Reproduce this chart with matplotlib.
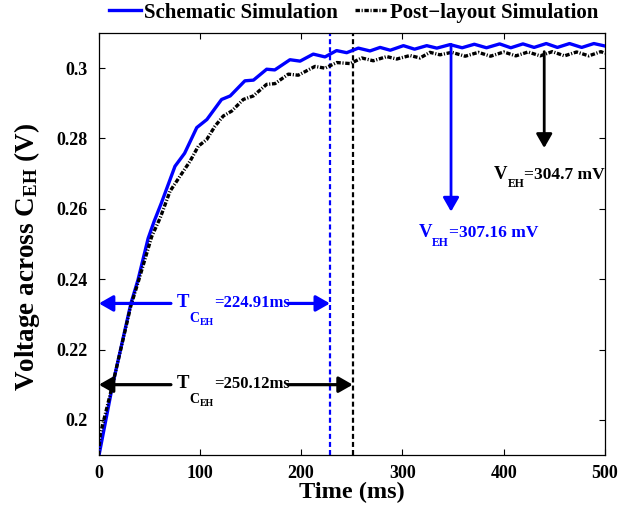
import matplotlib
matplotlib.use("Agg")
import matplotlib.pyplot as plt
from matplotlib.ticker import FixedLocator, FuncFormatter
from matplotlib.transforms import offset_copy

plt.rcParams['font.family'] = ['Liberation Serif', 'DejaVu Serif']
plt.rcParams['font.weight'] = 'bold'
plt.rcParams['mathtext.fontset'] = 'custom'
plt.rcParams['mathtext.rm'] = 'Liberation Serif:bold'
plt.rcParams['mathtext.it'] = 'Liberation Serif:bold'
plt.rcParams['mathtext.bf'] = 'Liberation Serif:bold'
plt.rcParams['mathtext.default'] = 'rm'
plt.rcParams['lines.scale_dashes'] = False

# ---- data (time in ms, voltage in V) ----
t_schem = [0, 14, 32, 39, 49, 55, 62, 75.5, 85, 97, 107, 121.5, 130, 144.5, 153, 166, 174, 189, 199, 212,
           223.6, 235, 245, 256.5, 268, 278, 288, 301, 312, 324, 334, 347, 359, 371, 383, 396, 407, 419, 430, 442,
           453, 465, 477, 489, 500]
v_schem = [0.1892, 0.2100, 0.2331, 0.2398, 0.2516, 0.2565, 0.2616, 0.2721, 0.2758, 0.2831,
           0.2854, 0.2911, 0.2921, 0.2964, 0.2966, 0.2997, 0.2995, 0.3024, 0.3020, 0.3040,
           0.3032, 0.3050, 0.3044, 0.3057, 0.3049, 0.3059, 0.3051, 0.3064, 0.3054, 0.3064,
           0.3057, 0.3067, 0.3058, 0.3068, 0.3058, 0.3069, 0.3058, 0.3069, 0.3059, 0.3070,
           0.3059, 0.3070, 0.3059, 0.3070, 0.3063]

t_post = [0, 1.8, 5.1, 8.4, 13.3, 32, 39, 52.5, 61, 70.6, 80.5, 90.3, 98.5, 106.8, 115, 123.2, 131.5, 142.9,
          152.8, 166, 174.2, 187.4, 197.2, 213.7, 223.6, 235.1, 248.6, 259.8, 271.3, 284.5, 294.4, 307.5,
          317.4, 327.2, 337.1, 348.7, 362, 375, 387, 400, 412, 424, 436, 448, 460, 472, 484, 496, 500]
v_post = [0.1900, 0.1960, 0.1998, 0.2036, 0.2093, 0.2325, 0.2390, 0.2521, 0.2575, 0.2650,
          0.2693, 0.2735, 0.2778, 0.2797, 0.2835, 0.2864, 0.2878, 0.2911, 0.2921, 0.2954,
          0.2956, 0.2983, 0.2980, 0.3005, 0.3000, 0.3016, 0.3013, 0.3029, 0.3021, 0.3033,
          0.3026, 0.3036, 0.3029, 0.3045, 0.3038, 0.3045, 0.3034, 0.3045, 0.3034, 0.3046,
          0.3035, 0.3046, 0.3035, 0.3047, 0.3035, 0.3046, 0.3035, 0.3047, 0.3042]

series_labels = ['Schematic Simulation', 'Post\u2212layout Simulation']
x_ticks = [0, 100, 200, 300, 400, 500]
y_ticks = [0.2, 0.22, 0.24, 0.26, 0.28, 0.3]

# settling times (vertical markers) and arrow levels
t_settle_schem = 228.5
t_settle_post = 251
arrow_level_schem = 0.2331
arrow_level_post = 0.2100
value_settle_schem = '=224.91ms'
value_settle_post = '=250.12ms'

# final value markers: (time, arrow start, arrow tip)
veh_schem = (348, 0.3068, 0.2592)
veh_post = (440, 0.3047, 0.2773)
value_veh_schem = '=307.16 mV'
value_veh_post = '=304.7 mV'

BLUE = '#0000ff'
BLACK = '#000000'

fig = plt.figure(figsize=(6.37, 5.08), dpi=100)
ax = fig.add_axes([98.5 / 637, 1 - 455 / 508, (605 - 98.5) / 637, (455 - 33) / 508])

l1, = ax.plot(t_schem, v_schem, color=BLUE, lw=2.4, zorder=3)
l2, = ax.plot(t_post, v_post, color=BLACK, lw=2.4, linestyle=(0, (3.2, 1.2, 0.8, 1.2)), zorder=4)

ax.axvline(t_settle_schem, color=BLUE, lw=1.6, linestyle=(0, (3.6, 2.2)), zorder=2)
ax.axvline(t_settle_post, color=BLACK, lw=1.6, linestyle=(0, (3.6, 2.2)), zorder=2)

ax.set_xlim(0, 500)
ax.set_ylim(0.19, 0.31)

HEAD = '-|>,head_length=0.42,head_width=0.24'


def arrow(x0, y0, x1, y1, col, lw):
    ax.annotate('', xy=(x1, y1), xytext=(x0, y0),
                arrowprops=dict(arrowstyle=HEAD, lw=lw, color=col, shrinkA=0, shrinkB=0,
                                mutation_scale=20), zorder=5)


def rich(x, y, pieces, col):
    """pieces: list of (string, fontsize, dy in px)"""
    renderer = fig.canvas.get_renderer()
    dx = 0.0
    for s, fs, dy in pieces:
        tr = offset_copy(ax.transData, fig=fig, x=dx, y=dy, units='dots')
        t = ax.text(x, y, s, transform=tr, color=col, fontsize=fs, fontweight='bold',
                    ha='left', va='baseline', zorder=6)
        dx += t.get_window_extent(renderer).width


# horizontal arrows with label gap
for lvl, tend, col, val in [(arrow_level_schem, t_settle_schem, BLUE, value_settle_schem),
                            (arrow_level_post, t_settle_post, BLACK, value_settle_post)]:
    arrow(71.5, lvl, 0.4, lvl, col, 2.3)
    arrow(187, lvl, tend, lvl, col, 2.3)
    rich(77.5, lvl - 0.0010, [('T', 13.5, 0), ('C', 10, -15), ('EH', 7, -18),
                              (val, 12, 0)], col)

# vertical arrows with labels
arrow(veh_schem[0], veh_schem[1], veh_schem[0], veh_schem[2], BLUE, 2.0)
arrow(veh_post[0], veh_post[1], veh_post[0], veh_post[2], BLACK, 2.0)
rich(316.0, 0.2520, [('V', 13.5, 0), ('EH', 8.5, -9), (value_veh_schem, 12.5, 0)], BLUE)
rich(390.4, 0.2686, [('V', 13.5, 0), ('EH', 8.5, -8), (value_veh_post, 12.5, 0)], BLACK)

ax.xaxis.set_major_locator(FixedLocator(x_ticks))
ax.yaxis.set_major_locator(FixedLocator(y_ticks))
ax.yaxis.set_major_formatter(FuncFormatter(lambda v, p: ('%g' % round(v, 4))))
ax.tick_params(direction='in', length=4.5, width=0.8, top=True, right=True, labelsize=13)
ax.tick_params(axis='x', pad=7)
ax.tick_params(axis='y', pad=8)
for lab in ax.get_xticklabels() + ax.get_yticklabels():
    lab.set_fontweight('bold')
for s in ax.spines.values():
    s.set_linewidth(0.9)

ax.set_xlabel('Time (ms)', fontsize=17.5, fontweight='bold', labelpad=0)
ax.set_ylabel(r'Voltage across C$_{EH}$ (V)', fontsize=19.5, fontweight='bold')
ax.yaxis.set_label_coords(-0.112, 0.47)

fig.legend([l1, l2], series_labels, loc='center', bbox_to_anchor=(0.555, 0.975), ncol=2,
           frameon=False, fontsize=15, handlelength=1.55, handletextpad=0.15, columnspacing=0.8,
           borderpad=0.1)

fig.savefig('out.png', dpi=100)
